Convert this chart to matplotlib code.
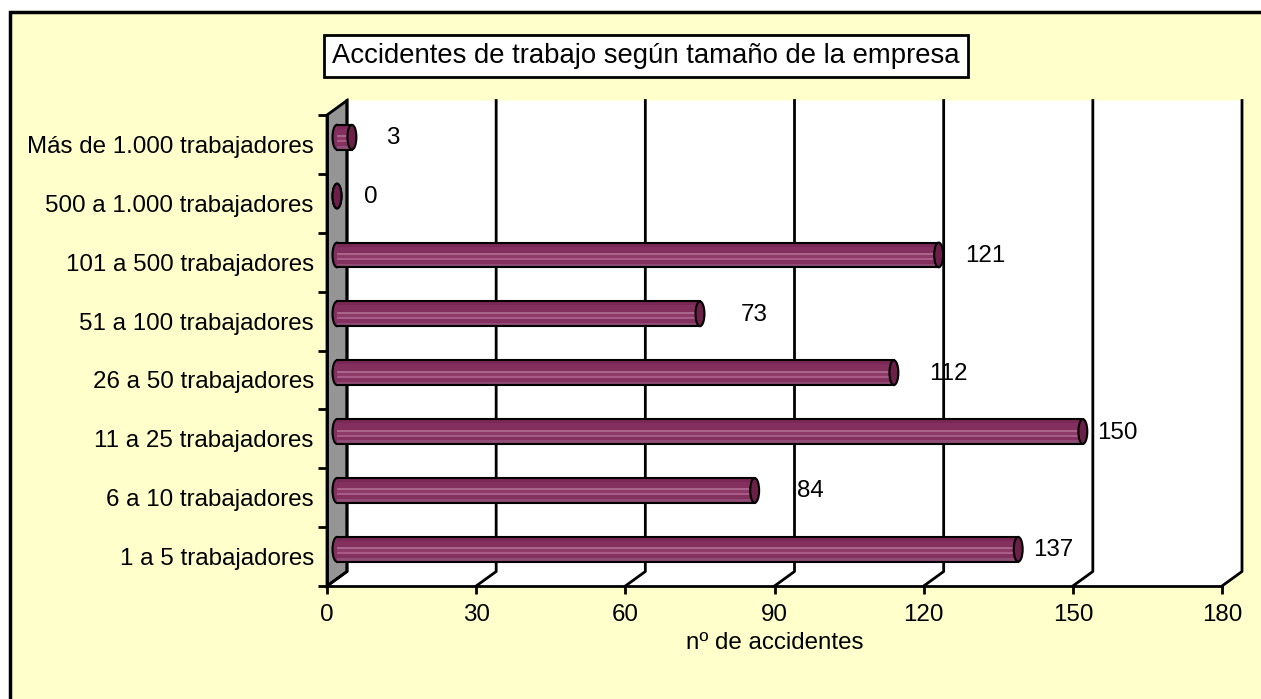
import matplotlib
matplotlib.use('Agg')
import matplotlib.pyplot as plt
from matplotlib.patches import Polygon, Rectangle, Ellipse
from matplotlib.transforms import IdentityTransform, offset_copy
from matplotlib.lines import Line2D

plt.rcParams['font.family'] = ['Liberation Sans', 'DejaVu Sans']

# datos: accidentes de trabajo por tamaño de empresa
categorias = ['1 a 5 trabajadores', '6 a 10 trabajadores', '11 a 25 trabajadores',
              '26 a 50 trabajadores', '51 a 100 trabajadores', '101 a 500 trabajadores',
              '500 a 1.000 trabajadores', 'Más de 1.000 trabajadores']
accidentes = [137, 84, 150, 112, 73, 121, 0, 3]
x_ticks = [0, 30, 60, 90, 120, 150, 180]

# desplazamiento de las etiquetas respecto al final de cada barra (pixeles)
label_dx = [35, 56, 34, 54, 54, 47, 34, 41]

DX, DY = 20, 14.5   # profundidad del efecto 3D en pixeles
BAR_H = 0.42        # grosor del cilindro (en categorias)
CAP_W = 1.8         # ancho de la elipse del extremo (en unidades del eje x)
FS = 17.4

fig = plt.figure(figsize=(12.61, 6.99), dpi=100)
fig.patch.set_facecolor('white')
# fondo amarillo con borde
fig.patches.append(Rectangle((10/1261, -0.1), 1.2, 1 - 12/699 + 0.1, transform=fig.transFigure,
                             facecolor='#FFFFCC', edgecolor='black', lw=2.5, zorder=-10))

ax = fig.add_axes([327/1261, 1 - 586/699, 895/1261, 471/699])
ax.patch.set_visible(False)
ax.set_xlim(0, 180)
ax.set_ylim(-0.5, 7.5)

def px(x, y, d):
    # coordenadas de pantalla con profundidad d (0 = frente, 1 = fondo)
    a, b = ax.transData.transform((x, y))
    return (a + DX*d, b + DY*d)

ident = IdentityTransform()

# pared del fondo y suelo en blanco
ax.add_patch(Polygon([px(0, -0.5, 0), px(180, -0.5, 0), px(180, -0.5, 1), px(180, 7.5, 1),
                      px(0, 7.5, 1), px(0, 7.5, 0)], closed=True, transform=ident,
                     facecolor='white', edgecolor='none', clip_on=False, zorder=0))
# pared lateral gris
ax.add_patch(Polygon([px(0, -0.5, 0), px(0, -0.5, 1), px(0, 7.5, 1), px(0, 7.5, 0)],
                     closed=True, transform=ident, facecolor='#959595', edgecolor='black',
                     lw=2, clip_on=False, zorder=0.5))

# lineas de division
for t in x_ticks:
    p0, p1, p2 = px(t, -0.5, 0), px(t, -0.5, 1), px(t, 7.5, 1)
    ax.add_line(Line2D([p0[0], p1[0], p2[0]], [p0[1], p1[1], p2[1]], transform=ident,
                       color='black', lw=2, clip_on=False, zorder=2))

# cilindros a media profundidad
mid = offset_copy(ax.transData, fig=fig, x=DX/2, y=DY/2, units='dots')
bandas = [(0.00, 0.14, '#8f4c74'), (0.14, 0.30, '#843160'), (0.30, 0.38, '#a65c86'),
          (0.38, 0.50, '#8e3a68'), (0.50, 0.58, '#a9648c'), (0.58, 0.84, '#84305e'),
          (0.84, 1.00, '#7a2855')]
for i, v in enumerate(accidentes):
    y0 = i - BAR_H/2
    ax.add_patch(Ellipse((0, i), CAP_W, BAR_H, transform=mid, facecolor='#84305e',
                         edgecolor='black', lw=1.5, zorder=3, clip_on=False))
    if v > 0:
        for f0, f1, c in bandas:
            ax.add_patch(Rectangle((0, y0 + f0*BAR_H), v, (f1 - f0)*BAR_H, transform=mid,
                                   facecolor=c, edgecolor='none', zorder=3.1, clip_on=False))
        ax.add_line(Line2D([0, v], [y0, y0], transform=mid, color='black', lw=1.5,
                           zorder=3.2, clip_on=False))
        ax.add_line(Line2D([0, v], [y0 + BAR_H, y0 + BAR_H], transform=mid, color='black',
                           lw=1.5, zorder=3.2, clip_on=False))
    ax.add_patch(Ellipse((v, i), CAP_W, BAR_H, transform=mid, facecolor='#6c2048',
                         edgecolor='black', lw=1.5, zorder=3.3, clip_on=False))
    ax.annotate(str(v), xy=(v, i), xycoords=mid, xytext=(label_dx[i], -1),
                textcoords='offset pixels', ha='center', va='center', fontsize=FS,
                zorder=1, annotation_clip=False)

# ejes
for s in ['top', 'right']:
    ax.spines[s].set_visible(False)
for s in ['left', 'bottom']:
    ax.spines[s].set_linewidth(2)
    ax.spines[s].set_zorder(2.5)
ax.set_xticks(x_ticks)
ax.tick_params(axis='x', direction='out', length=6, width=2, labelsize=FS, pad=7)
ax.set_yticks(range(len(categorias)))
ax.set_yticklabels(categorias)
ax.set_yticks([k - 0.5 for k in range(len(categorias) + 1)], minor=True)
ax.tick_params(axis='y', which='major', length=0, labelsize=FS, pad=9.5)
ax.tick_params(axis='y', which='minor', direction='out', length=6.5, width=2)
ax.set_xlabel('nº de accidentes', fontsize=FS, labelpad=4.5)

fig.text(646/1261, 1 - 56/699, 'Accidentes de trabajo según tamaño de la empresa',
         ha='center', va='center', fontsize=19.8,
         bbox=dict(boxstyle='square,pad=0.3', facecolor='white', edgecolor='black', lw=2))

fig.savefig('out.png', dpi=100)
